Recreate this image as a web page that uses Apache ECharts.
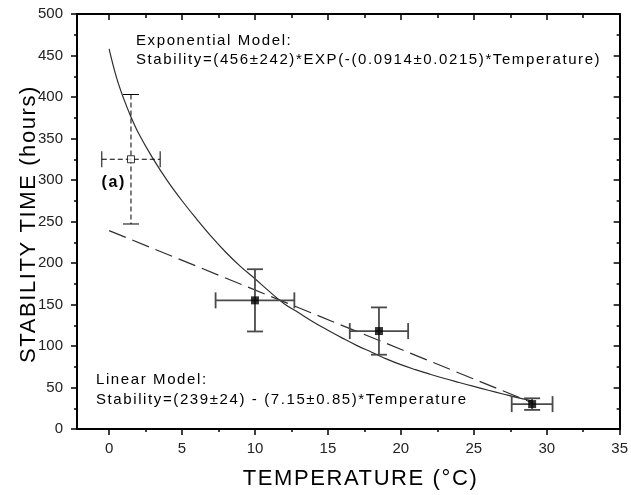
<!DOCTYPE html>
<html>
<head>
<meta charset="utf-8">
<script src="https://cdn.jsdelivr.net/npm/echarts@6/dist/echarts.min.js"></script>
<style>
  html, body { margin: 0; padding: 0; background: #fff; }
  #chart { width: 631px; height: 495px; }
</style>
</head>
<body>
<div id="chart"></div>
<script>
// Reference sample (a): open marker with dashed error bars
const refTemp = [1.5];
const refTempErr = [2.0];
const refStab = [325];
const refStabErr = [78];

// Measured samples: temperature (°C) and stability time (hours)
const measTemp = [10, 18.5, 29];
const measTempErr = [2.7, 2.0, 1.4];
const measStab = [155, 118, 30];
const measStabErr = [37.5, 28.5, 7];

// Fitted exponential model curve
const expCurveTemp = [0, 0.5, 1, 1.5, 2, 3, 4, 5, 6, 7, 8, 9, 10, 11, 12, 13, 14, 15,
                      16, 17, 18, 19, 20, 21, 22, 23, 24, 25, 26, 27, 28, 29];
const expCurveStab = [458, 424, 398, 376, 357, 326, 299, 275, 253, 232, 213, 196, 181, 165.5,
                      151, 140, 129, 119, 109.5, 100.5, 92.5, 84.5, 77.5, 71.5, 66, 60.8, 56,
                      51.3, 46.7, 42.2, 37.8, 34];

// Fitted linear model: Stability = 239 - 7.15 * Temperature
const linTemp = [0, 29];
const linStab = [239, 31.65];

// Axis ticks
const xMajorTicks = [0, 5, 10, 15, 20, 25, 30, 35];
const xMinorTicks = [2.5, 7.5, 12.5, 17.5, 22.5, 27.5, 32.5];

// Annotation texts
const expTitle = 'Exponential Model:';
const expFormula = 'Stability=(456\u00b1242)*EXP(-(0.0914\u00b10.0215)*Temperature)';
const linTitle = 'Linear Model:';
const linFormula = 'Stability=(239\u00b124) - (7.15\u00b10.85)*Temperature';
const sampleTag = '(a)';
const xTitle = 'TEMPERATURE (\u00b0C)';
const yTitle = 'STABILITY TIME (hours)';

// Texts set in the "Spaced" family stack get extra tracking when painted
(function () {
  const proto = CanvasRenderingContext2D.prototype;
  const fill = proto.fillText;
  proto.fillText = function () {
    const spaced = 'letterSpacing' in this && String(this.font).indexOf('Spaced') >= 0;
    if (spaced) this.letterSpacing = '1.6px';
    const res = fill.apply(this, arguments);
    if (spaced) this.letterSpacing = '0px';
    return res;
  };
})();

const zip = (a, b) => a.map((v, i) => [v, b[i]]);
const rows = (t, te, s, se) => t.map((v, i) => [v, s[i], te[i], se[i]]);

const FONT = '"Liberation Sans", Arial, sans-serif';
const SPACED = '"Liberation Sans", Spaced, sans-serif';
const X_MIN = -2.2;

function errorBars(color, width, dash) {
  return function (params, api) {
    const x = api.value(0), y = api.value(1), dx = api.value(2), dy = api.value(3);
    const l = api.coord([x - dx, y]), r = api.coord([x + dx, y]);
    const t = api.coord([x, y + dy]), b = api.coord([x, y - dy]);
    const cap = 8;
    const barStyle = { stroke: color, lineWidth: width, lineDash: dash, fill: null };
    const capStyle = { stroke: color, lineWidth: width, fill: null };
    const seg = (x1, y1, x2, y2, st) => ({ type: 'line', shape: { x1, y1, x2, y2 }, style: st });
    return {
      type: 'group',
      children: [
        seg(l[0], l[1], r[0], r[1], barStyle),
        seg(t[0], t[1], b[0], b[1], barStyle),
        seg(l[0], l[1] - cap, l[0], l[1] + cap, capStyle),
        seg(r[0], r[1] - cap, r[0], r[1] + cap, capStyle),
        seg(t[0] - cap, t[1], t[0] + cap, t[1], capStyle),
        seg(b[0] - cap, b[1], b[0] + cap, b[1], capStyle)
      ]
    };
  };
}

function lineOf(show) {
  return { show, onZero: false, lineStyle: { color: '#000', width: 2 } };
}

function xAxisOf(position, ticks, length, inside, withLabels, showLine) {
  return {
    type: 'value', position, min: X_MIN, max: 35,
    axisLine: lineOf(showLine),
    axisTick: { show: true, customValues: ticks, length, inside, lineStyle: { color: '#000', width: 1.5 } },
    axisLabel: withLabels
      ? { show: true, customValues: xMajorTicks, fontFamily: FONT, fontSize: 15, color: '#222', margin: 12 }
      : { show: false },
    splitLine: { show: false }
  };
}

function yAxisOf(position, inside, withLabels) {
  return {
    type: 'value', position, min: 0, max: 500, interval: 50,
    axisLine: lineOf(true),
    axisTick: { show: true, length: 6, inside, lineStyle: { color: '#000', width: 1.5 } },
    minorTick: { show: true, splitNumber: 2, length: 3, lineStyle: { color: '#000', width: 1.5 } },
    axisLabel: withLabels
      ? { show: true, fontFamily: FONT, fontSize: 15, color: '#222', margin: 14 }
      : { show: false },
    splitLine: { show: false },
    minorSplitLine: { show: false }
  };
}

const chart = echarts.init(document.getElementById('chart'), null, { renderer: 'canvas' });

chart.setOption({
  animation: false,
  backgroundColor: '#fff',
  grid: { left: 77, right: 8, top: 14, bottom: 66, containLabel: false },
  xAxis: [
    xAxisOf('bottom', xMajorTicks, 6, false, true, true),
    xAxisOf('bottom', xMinorTicks, 3, false, false, false),
    xAxisOf('top', xMajorTicks, 6, true, false, true),
    xAxisOf('top', xMinorTicks, 4, true, false, false)
  ],
  yAxis: [
    yAxisOf('left', false, true),
    yAxisOf('right', true, false)
  ],
  series: [
    {
      name: 'Exponential Model', type: 'line', xAxisIndex: 0, yAxisIndex: 0,
      data: zip(expCurveTemp, expCurveStab), smooth: 0.4, showSymbol: false, symbol: 'none',
      lineStyle: { color: '#2e2e2e', width: 1.2 }, z: 3
    },
    {
      name: 'Linear Model', type: 'line', xAxisIndex: 0, yAxisIndex: 0,
      data: zip(linTemp, linStab), showSymbol: false, symbol: 'none',
      lineStyle: { color: '#2e2e2e', width: 1.2, type: [18, 7] }, z: 3
    },
    {
      type: 'custom', xAxisIndex: 0, yAxisIndex: 0,
      data: rows(measTemp, measTempErr, measStab, measStabErr),
      encode: { x: 0, y: 1 },
      renderItem: errorBars('#4a4a4a', 1.8, null), z: 4
    },
    {
      type: 'custom', xAxisIndex: 0, yAxisIndex: 0,
      data: rows(refTemp, refTempErr, refStab, refStabErr),
      encode: { x: 0, y: 1 },
      renderItem: errorBars('#000', 1, [5, 3]), z: 4
    },
    {
      type: 'scatter', xAxisIndex: 0, yAxisIndex: 0,
      data: zip(measTemp, measStab), symbol: 'rect', symbolSize: 8,
      itemStyle: { color: '#000' }, z: 5
    },
    {
      type: 'scatter', xAxisIndex: 0, yAxisIndex: 0,
      data: zip(refTemp, refStab), symbol: 'rect', symbolSize: 7,
      itemStyle: { color: '#fff', borderColor: '#000', borderWidth: 1 }, z: 5
    }
  ],
  graphic: [
    { type: 'text', x: 136, y: 41, style: { text: expTitle, font: '15px ' + SPACED, fill: '#000', align: 'left', verticalAlign: 'middle' } },
    { type: 'text', x: 136, y: 60, style: { text: expFormula, font: '15px ' + SPACED, fill: '#000', align: 'left', verticalAlign: 'middle' } },
    { type: 'text', x: 96, y: 379.5, style: { text: linTitle, font: '15px ' + SPACED, fill: '#000', align: 'left', verticalAlign: 'middle' } },
    { type: 'text', x: 96, y: 399.5, style: { text: linFormula, font: '15px ' + SPACED, fill: '#000', align: 'left', verticalAlign: 'middle' } },
    { type: 'text', x: 101.5, y: 183, style: { text: sampleTag, font: 'bold 16px ' + SPACED, fill: '#000', align: 'left', verticalAlign: 'middle' } },
    { type: 'text', x: 360.5, y: 479, style: { text: xTitle, font: '22px ' + SPACED, fill: '#000', align: 'center', verticalAlign: 'middle' } },
    { type: 'text', x: 29, y: 224, rotation: Math.PI / 2, style: { text: yTitle, font: '22px ' + SPACED, fill: '#000', align: 'center', verticalAlign: 'middle' } }
  ]
});
</script>
</body>
</html>
